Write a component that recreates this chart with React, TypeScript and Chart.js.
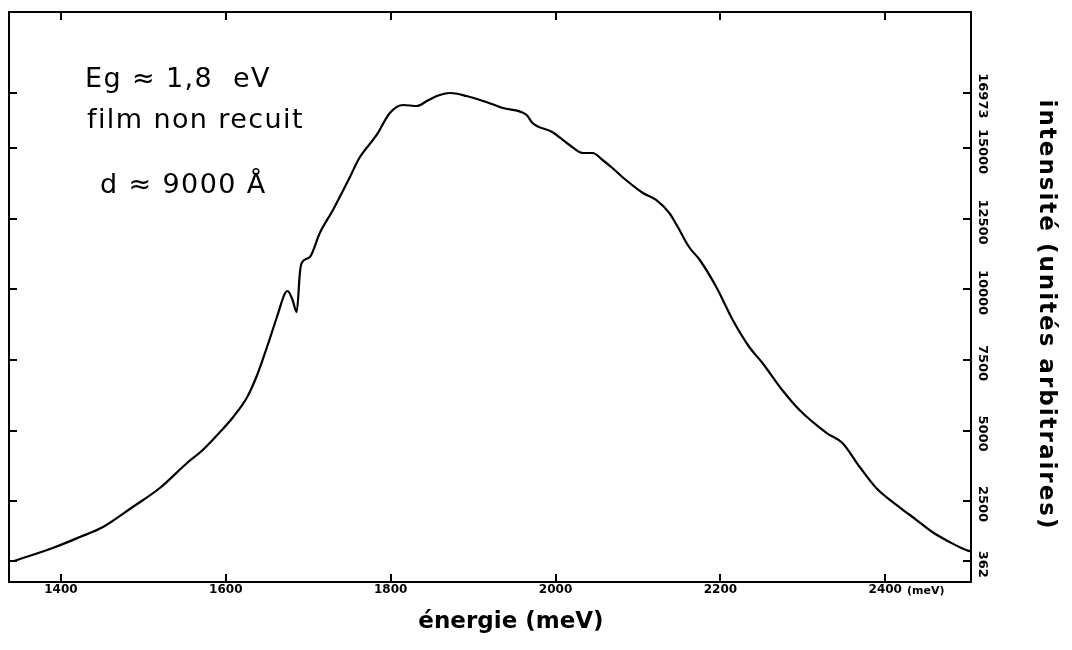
import React, { useEffect, useRef } from "react";
import { Chart, registerables } from "chart.js";

Chart.register(...registerables);

// ---- data ----
const energy = [
  1343, 1390, 1423, 1451, 1487, 1520, 1553, 1572, 1593, 1609, 1626, 1638, 1650, 1662, 1672,
  1675, 1681, 1686, 1690, 1692, 1702, 1714, 1730, 1750, 1762, 1783, 1799, 1815, 1832, 1844,
  1856, 1872, 1892, 1916, 1936, 1965, 1972, 1996, 2017, 2033, 2045, 2057, 2069, 2081, 2106,
  2122, 2138, 2147, 2162, 2175, 2195, 2215, 2235, 2251, 2275, 2296, 2329, 2348, 2369, 2389,
  2417, 2438, 2457, 2478, 2498, 2503,
];
const intensity = [
  370, 833, 1223, 1578, 2287, 2961, 3848, 4309, 4947, 5479, 6188, 6968, 7961, 9025, 9876,
  9947, 9628, 9202, 10621, 10940, 11152, 12004, 12819, 13954, 14663, 15479, 16259, 16543, 16507, 16684,
  16862, 16968, 16862, 16649, 16436, 16188, 15904, 15585, 15124, 14840, 14840, 14592, 14309, 13989, 13422,
  13174, 12713, 12287, 11507, 11046, 10089, 8918, 7961, 7394, 6436, 5727, 4911, 4557, 3706, 2961,
  2287, 1826, 1401, 1046, 762, 720,
];

const xTickValues = [1400, 1600, 1800, 2000, 2200, 2400];
const xTickLabels = ["1400", "1600", "1800", "2000", "2200", "2400"];
const xUnitLabel = "(meV)";
const yTickValues = [362, 2500, 5000, 7500, 10000, 12500, 15000, 16973];
const yTickLabels = ["362", "2500", "5000", "7500", "10000", "12500", "15000", "16973"];
const xRange = [1337, 2504];
const yRange = [-372, 19840];

const xTitle = "énergie (meV)";
const yTitle = "intensité (unités arbitraires)";
const annotationLines = ["Eg ≈ 1,8  eV", "film non recuit", "d ≈ 9000 Å"];

const FONT = '"DejaVu Sans", "Liberation Sans", sans-serif';

const decorPlugin = {
  id: "decor",
  afterDraw(chart: any) {
    const ctx = chart.ctx as CanvasRenderingContext2D;
    const ys = chart.scales.y;
    const xs = chart.scales.x;
    ctx.save();
    ctx.fillStyle = "#000";

    // right-axis tick labels, rotated clockwise
    ctx.font = `bold 13px ${FONT}`;
    ctx.textAlign = "center";
    ctx.textBaseline = "middle";
    yTickValues.forEach((v, i) => {
      const py = ys.getPixelForValue(v);
      ctx.save();
      ctx.translate(982, py + 3);
      ctx.rotate(Math.PI / 2);
      ctx.fillText(yTickLabels[i], 0, 0);
      ctx.restore();
    });

    // unit after the last x label
    ctx.font = `bold 12px ${FONT}`;
    const lastX = xTickValues[xTickValues.length - 1];
    const w = ctx.measureText(xTickLabels[xTickLabels.length - 1]).width;
    ctx.font = `bold 11px ${FONT}`;
    ctx.textAlign = "left";
    ctx.fillText(xUnitLabel, xs.getPixelForValue(lastX) + w / 2 + 5, 591);

    // bottom axis title
    ctx.font = `bold 23px ${FONT}`;
    ctx.textAlign = "center";
    ctx.textBaseline = "alphabetic";
    ctx.fillText(xTitle, 511, 628);

    // right axis title
    ctx.save();
    (ctx as any).letterSpacing = "2px";
    ctx.translate(1040, 315);
    ctx.rotate(Math.PI / 2);
    ctx.font = `bold 23px ${FONT}`;
    ctx.textAlign = "center";
    ctx.textBaseline = "alphabetic";
    ctx.fillText(yTitle, 0, 0);
    ctx.restore();

    // annotation
    ctx.save();
    (ctx as any).letterSpacing = "1.4px";
    ctx.font = `27px ${FONT}`;
    ctx.textAlign = "left";
    ctx.textBaseline = "alphabetic";
    ctx.fillText(annotationLines[0], 85, 87);
    ctx.fillText(annotationLines[1], 87, 128);
    ctx.fillText(annotationLines[2], 100, 193);
    ctx.restore();

    ctx.restore();
  },
};

const gridOpts = {
  drawOnChartArea: false,
  drawTicks: true,
  tickLength: -8,
  color: "#000",
  lineWidth: 2,
};
const borderOpts = { color: "#000", width: 2 };

export default function App() {
  const ref = useRef<HTMLCanvasElement>(null);

  useEffect(() => {
    const points = energy.map((e, i) => ({ x: e, y: intensity[i] }));
    const setX = (s: any) => {
      s.ticks = xTickValues.map((v) => ({ value: v }));
    };
    const setY = (s: any) => {
      s.ticks = yTickValues.map((v) => ({ value: v }));
    };
    const chart = new Chart(ref.current as HTMLCanvasElement, {
      type: "line",
      data: {
        datasets: [
          {
            data: points,
            borderColor: "#000",
            borderWidth: 2.2,
            pointRadius: 0,
            cubicInterpolationMode: "monotone",
            fill: false,
            borderJoinStyle: "round",
          } as any,
        ],
      },
      options: {
        responsive: false,
        animation: false,
        devicePixelRatio: 1,
        layout: { padding: 0 },
        plugins: { legend: { display: false }, tooltip: { enabled: false }, title: { display: false } },
        scales: {
          x: {
            type: "linear",
            position: "bottom",
            min: xRange[0],
            max: xRange[1],
            afterBuildTicks: setX,
            afterFit: (s: any) => {
              s.height = 68;
            },
            ticks: {
              autoSkip: false,
              maxRotation: 0,
              minRotation: 0,
              padding: 9,
              color: "#000",
              font: { family: FONT, size: 12, weight: "bold" },
              callback: (v: any) => {
                const i = xTickValues.indexOf(Number(v));
                return i >= 0 ? xTickLabels[i] : "";
              },
            },
            grid: gridOpts,
            border: borderOpts,
          },
          x2: {
            type: "linear",
            position: "top",
            min: xRange[0],
            max: xRange[1],
            afterBuildTicks: setX,
            afterFit: (s: any) => {
              s.height = 12;
            },
            ticks: { display: false },
            grid: gridOpts,
            border: borderOpts,
          },
          y: {
            type: "linear",
            position: "right",
            min: yRange[0],
            max: yRange[1],
            afterBuildTicks: setY,
            afterFit: (s: any) => {
              s.width = 101;
            },
            ticks: { display: false },
            grid: gridOpts,
            border: borderOpts,
          },
          yL: {
            type: "linear",
            position: "left",
            min: yRange[0],
            max: yRange[1],
            afterBuildTicks: setY,
            afterFit: (s: any) => {
              s.width = 9;
            },
            ticks: { display: false },
            grid: gridOpts,
            border: borderOpts,
          },
        } as any,
      },
      plugins: [decorPlugin],
    });
    return () => chart.destroy();
  }, []);

  return (
    <div style={{ position: "fixed", left: 0, top: 0, width: 1072, height: 650, background: "#fff" }}>
      <canvas ref={ref} width={1072} height={650} style={{ display: "block" }} />
    </div>
  );
}
